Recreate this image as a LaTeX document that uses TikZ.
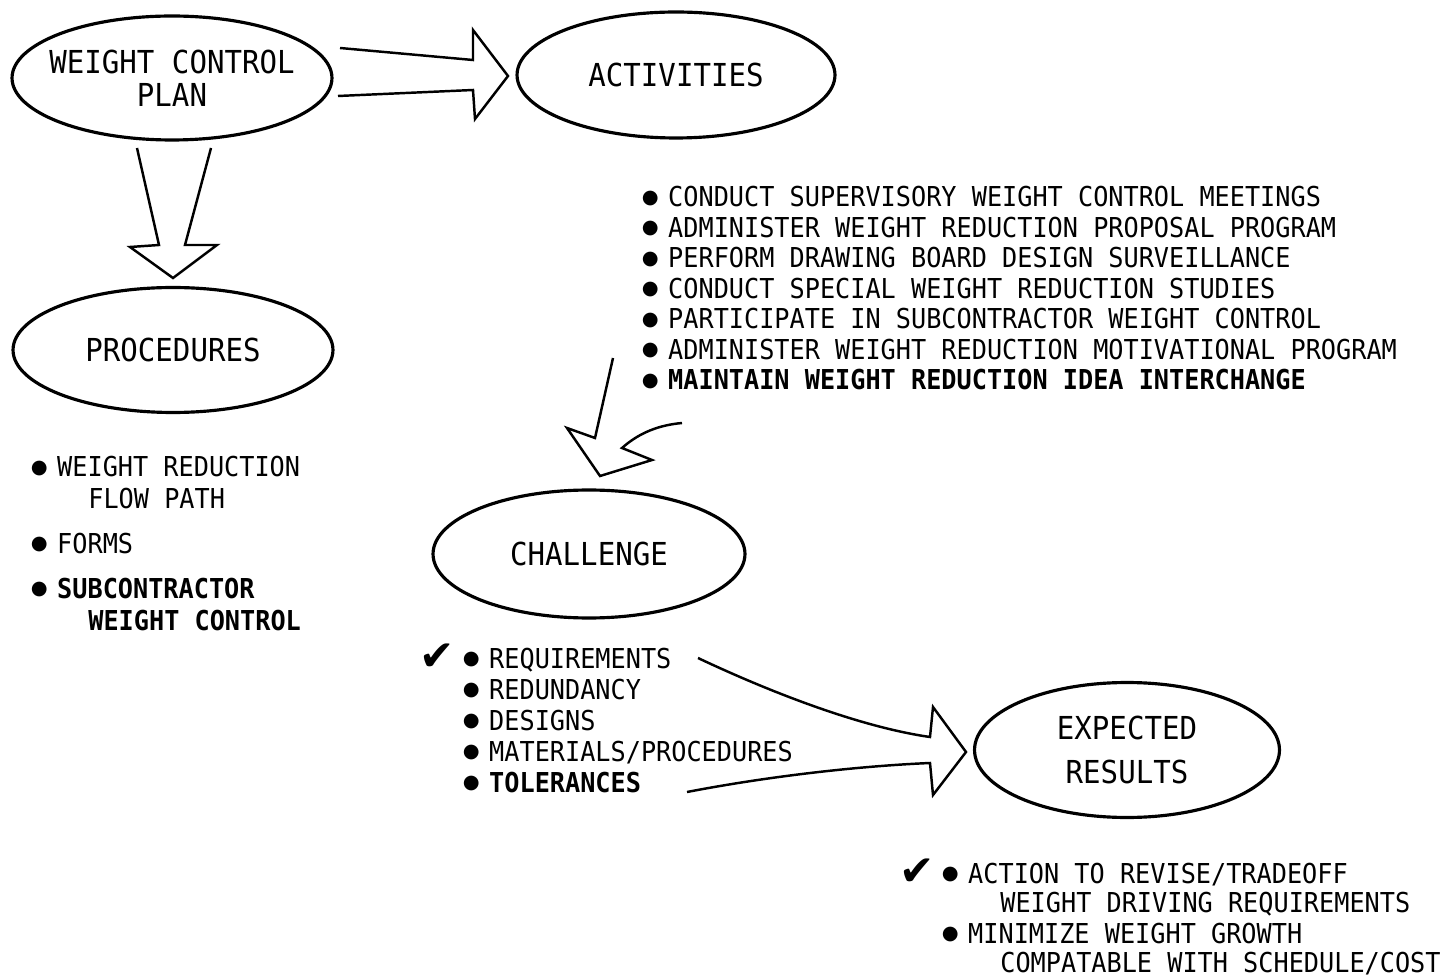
\documentclass[tikz,border=0pt]{standalone}
\usepackage{fontspec}
\newfontfamily\typer[FakeStretch=0.92]{DejaVu Sans Mono}
\newfontfamily\symb{DejaVu Sans}
\usetikzlibrary{shapes.geometric}

% bullet and check mark glyphs
\newcommand{\bul}{\makebox[17pt][l]{\hspace{2pt}\raisebox{2.1pt}{\symb\fontsize{11}{11}\selectfont ●}}}
\newcommand{\chk}{{\symb\fontsize{24}{24}\selectfont ✔}}

\begin{document}
\begin{tikzpicture}[
    x=0.02cm, y=-0.02cm,
    ovalstyle/.style={
        ellipse,
        draw,
        line width=1.8pt,
        inner sep=0pt,
        align=center,
        font=\typer\fontsize{18}{18.7}\selectfont
    },
    itemtext/.style={
        anchor=base west,
        inner sep=0pt,
        font=\typer\fontsize{15.6}{18}\selectfont
    },
    blockarrow/.style={
        line width=1.4pt,
        line join=miter
    }
]
\useasboundingbox (0,0) rectangle (1443,979);

% Ellipses
\node[ovalstyle, inner xsep=-6pt, minimum width=6.4cm, minimum height=2.48cm] (plan) at (172,78) {WEIGHT CONTROL\\PLAN};
\node[ovalstyle, minimum width=6.36cm, minimum height=2.52cm] (act) at (676,75) {ACTIVITIES};
\node[ovalstyle, minimum width=6.4cm, minimum height=2.5cm] (proc) at (173,350) {PROCEDURES};
\node[ovalstyle, minimum width=6.24cm, minimum height=2.56cm] (chal) at (589,554) {CHALLENGE};
\node[ovalstyle, minimum width=6.1cm, minimum height=2.7cm] (res) at (1127,750) {EXPECTED\\[6.8pt]RESULTS};

% Hollow block arrows
\draw[blockarrow] (340,48) -- (473,60) -- (473,30) -- (508,76) -- (475,119) -- (473,90) -- (338,96);
\draw[blockarrow] (137,148) -- (159,245) -- (130,247) -- (173,278) -- (217,245) -- (185,245) -- (211,148);
\draw[blockarrow] (613,358) -- (595,438) -- (567,428) -- (600,476) -- (652,460) -- (622,448)
    .. controls (640,432) and (660,425) .. (682,423);
\draw[blockarrow] (698,658) .. controls (770,692) and (860,727) .. (930,737) -- (933,707) -- (966,752)
    -- (933,795) -- (930,763) .. controls (860,766) and (770,776) .. (687,792);

% Activities list
\foreach \txt [count=\i] in {CONDUCT SUPERVISORY WEIGHT CONTROL MEETINGS,
    ADMINISTER WEIGHT REDUCTION PROPOSAL PROGRAM,
    PERFORM DRAWING BOARD DESIGN SURVEILLANCE,
    CONDUCT SPECIAL WEIGHT REDUCTION STUDIES,
    PARTICIPATE IN SUBCONTRACTOR WEIGHT CONTROL,
    ADMINISTER WEIGHT REDUCTION MOTIVATIONAL PROGRAM}
  \node[itemtext] (acti\i) at (638,{207+30.5*(\i-1)}) {\bul\txt};
\node[itemtext, font=\typer\bfseries\fontsize{15.6}{18}\selectfont] (acti7) at (638,390) {\bul MAINTAIN WEIGHT REDUCTION IDEA INTERCHANGE};

% Procedures list
\node[itemtext] (proci1) at (27,477) {\bul WEIGHT REDUCTION};
\node[itemtext] (proci1b) at (88,508) {FLOW PATH};
\node[itemtext] (proci2) at (27,553) {\bul FORMS};
\node[itemtext, font=\typer\bfseries\fontsize{15.6}{18}\selectfont] (proci3) at (27,598) {\bul SUBCONTRACTOR};
\node[itemtext, font=\typer\bfseries\fontsize{15.6}{18}\selectfont] (proci3b) at (88,630) {WEIGHT CONTROL};

% Challenge list
\foreach \txt [count=\i] in {REQUIREMENTS, REDUNDANCY, DESIGNS, MATERIALS/PROCEDURES}
  \node[itemtext] (chali\i) at (459,{668+31*(\i-1)}) {\bul\txt};
\node[itemtext, font=\typer\bfseries\fontsize{15.6}{18}\selectfont] (chali5) at (459,792) {\bul TOLERANCES};
\node[inner sep=0pt] (chk1) at (437,657) {\chk};

% Expected results list
\node[itemtext] (resi1) at (938,883) {\bul ACTION TO REVISE/TRADEOFF};
\node[itemtext] (resi1b) at (1000,912) {WEIGHT DRIVING REQUIREMENTS};
\node[itemtext] (resi2) at (938,943) {\bul MINIMIZE WEIGHT GROWTH};
\node[itemtext] (resi2b) at (1000,972) {COMPATABLE WITH SCHEDULE/COST};
\node[inner sep=0pt] (chk2) at (917,872) {\chk};

\end{tikzpicture}
\end{document}
